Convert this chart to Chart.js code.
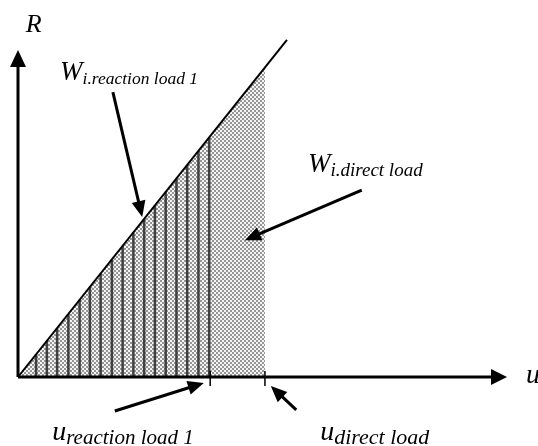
<!DOCTYPE html>
<html lang="en">
<head>
    <meta charset="UTF-8">
    <title>Reaction load vs direct load work</title>
    <script src="https://cdn.jsdelivr.net/npm/chart.js"></script>
    <style>
        body { margin: 0; background: #ffffff; }
        #wrap { position: relative; width: 538px; height: 446px; }
    </style>
</head>
<body>
    <div id="wrap"><canvas id="diagram"></canvas></div>

    <script>
        // Axis extents (arbitrary units, no numeric ticks shown)
        const U_MAX = 100;
        const R_MAX = 100;
        const R_AXIS_TIP = 93.4;

        // Load line R(u)
        const loadLineU = [0, 55];
        const loadLineR = [0, 96.3];

        // Characteristic displacements
        const uReaction = 39.3;
        const uDirect = 50.5;

        // Shaded (direct load) area: under the load line up to uDirect
        const shadeU = [0, uDirect];
        const shadeR = [0, 88.4];

        // Vertical hatching (reaction load 1 work), tops sit on the load line
        const hatchU   = [3.7, 5.9, 8.0, 10.3, 12.6, 14.7, 16.9, 19.2, 21.4, 23.6, 25.8, 28.0, 30.2, 32.4, 34.6, 36.9, 39.1];
        const hatchTop = [6.5, 10.3, 14.0, 18.0, 22.1, 25.7, 29.6, 33.6, 37.5, 41.3, 45.2, 49.0, 52.9, 56.7, 60.6, 64.6, 68.5];

        // Labels: main symbol, subscript, anchor (u, R), font sizes
        const labels = [
            { main: 'R', sub: '', u: 1.6, r: 98.6, size: 26, subSize: 0 },
            { main: 'W', sub: 'i.reaction load 1', u: 8.6, r: 84.9, size: 27, subSize: 17.5 },
            { main: 'W', sub: 'i.direct load', u: 59.3, r: 58.6, size: 27, subSize: 19 },
            { main: 'u', sub: 'reaction load 1', u: 7.0, r: -18.0, size: 28, subSize: 21 },
            { main: 'u', sub: 'direct load', u: 61.8, r: -18.0, size: 28, subSize: 22 },
            { main: 'u', sub: '', u: 103.9, r: -1.7, size: 28, subSize: 0 }
        ];

        // Pointer arrows: from (u0, r0) to tip (u1, r1)
        const pointers = [
            { u0: 19.4, r0: 81.4, u1: 25.4, r1: 45.7 },
            { u0: 70.3, r0: 53.4, u1: 46.4, r1: 39.1 },
            { u0: 19.8, r0: -9.7, u1: 38.0, r1: -1.7 },
            { u0: 56.9, r0: -9.4, u1: 51.7, r1: -2.6 }
        ];

        // checkerboard stipple for the direct-load area
        function makeStipple() {
            const c = document.createElement('canvas');
            c.width = 4; c.height = 4;
            const g = c.getContext('2d');
            g.fillStyle = '#f4f4f4';
            g.fillRect(0, 0, 4, 4);
            g.fillStyle = '#959595';
            g.fillRect(0, 0, 2, 2);
            g.fillRect(2, 2, 2, 2);
            return g.createPattern(c, 'repeat');
        }

        const hatchData = [];
        hatchU.forEach((u, i) => {
            hatchData.push({ x: u, y: 0 }, { x: u, y: hatchTop[i] }, { x: u, y: null });
        });

        function arrowHead(ctx, x0, y0, x1, y1, len, half) {
            const a = Math.atan2(y1 - y0, x1 - x0);
            ctx.beginPath();
            ctx.moveTo(x1, y1);
            ctx.lineTo(x1 - len * Math.cos(a) + half * Math.sin(a), y1 - len * Math.sin(a) - half * Math.cos(a));
            ctx.lineTo(x1 - len * Math.cos(a) - half * Math.sin(a), y1 - len * Math.sin(a) + half * Math.cos(a));
            ctx.closePath();
            ctx.fill();
        }

        const overlay = {
            id: 'overlay',
            afterDatasetsDraw(chart) {
                const ctx = chart.ctx;
                const xs = chart.scales.x, ys = chart.scales.y;
                const X = v => xs.getPixelForValue(v);
                const Y = v => ys.getPixelForValue(v);
                ctx.save();
                ctx.strokeStyle = '#000';
                ctx.fillStyle = '#000';

                // axes with arrowheads
                const ox = X(0), oy = Y(0);
                ctx.lineWidth = 3;
                ctx.beginPath();
                ctx.moveTo(ox, oy);
                ctx.lineTo(X(U_MAX) - 12, oy);
                ctx.moveTo(ox, oy);
                ctx.lineTo(ox, Y(R_AXIS_TIP) + 12);
                ctx.stroke();
                arrowHead(ctx, ox, oy, X(U_MAX), oy, 16, 8);
                arrowHead(ctx, ox, oy, ox, Y(R_AXIS_TIP), 17, 8);

                // tick marks for the two displacements
                ctx.lineWidth = 1.5;
                [uReaction, uDirect].forEach(u => {
                    ctx.beginPath();
                    ctx.moveTo(X(u), oy - 6);
                    ctx.lineTo(X(u), oy + 9);
                    ctx.stroke();
                });

                // pointer arrows
                ctx.lineWidth = 3;
                pointers.forEach(p => {
                    const x0 = X(p.u0), y0 = Y(p.r0), x1 = X(p.u1), y1 = Y(p.r1);
                    const a = Math.atan2(y1 - y0, x1 - x0);
                    ctx.beginPath();
                    ctx.moveTo(x0, y0);
                    ctx.lineTo(x1 - 10 * Math.cos(a), y1 - 10 * Math.sin(a));
                    ctx.stroke();
                    arrowHead(ctx, x0, y0, x1, y1, 16, 7);
                });

                // labels with subscripts
                ctx.textBaseline = 'alphabetic';
                labels.forEach(l => {
                    const x = X(l.u), y = Y(l.r);
                    ctx.font = 'italic ' + l.size + 'px "Liberation Serif", serif';
                    ctx.fillText(l.main, x, y);
                    if (l.sub) {
                        const w = ctx.measureText(l.main).width;
                        ctx.font = 'italic ' + l.subSize + 'px "Liberation Serif", serif';
                        ctx.fillText(l.sub, x + w, y + 4);
                    }
                });
                ctx.restore();
            }
        };

        new Chart(document.getElementById('diagram'), {
            type: 'scatter',
            data: {
                datasets: [
                    {
                        label: 'W direct load',
                        data: shadeU.map((u, i) => ({ x: u, y: shadeR[i] })),
                        showLine: true,
                        borderWidth: 0,
                        borderColor: 'rgba(0,0,0,0)',
                        backgroundColor: makeStipple(),
                        fill: 'origin',
                        pointRadius: 0,
                        order: 3
                    },
                    {
                        label: 'W reaction load 1',
                        data: hatchData,
                        showLine: true,
                        spanGaps: false,
                        borderColor: '#404040',
                        borderWidth: 2.5,
                        pointRadius: 0,
                        order: 2
                    },
                    {
                        label: 'R(u)',
                        data: loadLineU.map((u, i) => ({ x: u, y: loadLineR[i] })),
                        showLine: true,
                        borderColor: '#000000',
                        borderWidth: 2,
                        pointRadius: 0,
                        clip: false,
                        order: 1
                    }
                ]
            },
            options: {
                responsive: true,
                maintainAspectRatio: false,
                animation: false,
                layout: { padding: { left: 18, right: 31, top: 27, bottom: 69 } },
                scales: {
                    x: { type: 'linear', display: false, min: 0, max: U_MAX },
                    y: { type: 'linear', display: false, min: 0, max: R_MAX }
                },
                plugins: {
                    legend: { display: false },
                    tooltip: { enabled: false }
                }
            },
            plugins: [overlay]
        });
    </script>
</body>
</html>
